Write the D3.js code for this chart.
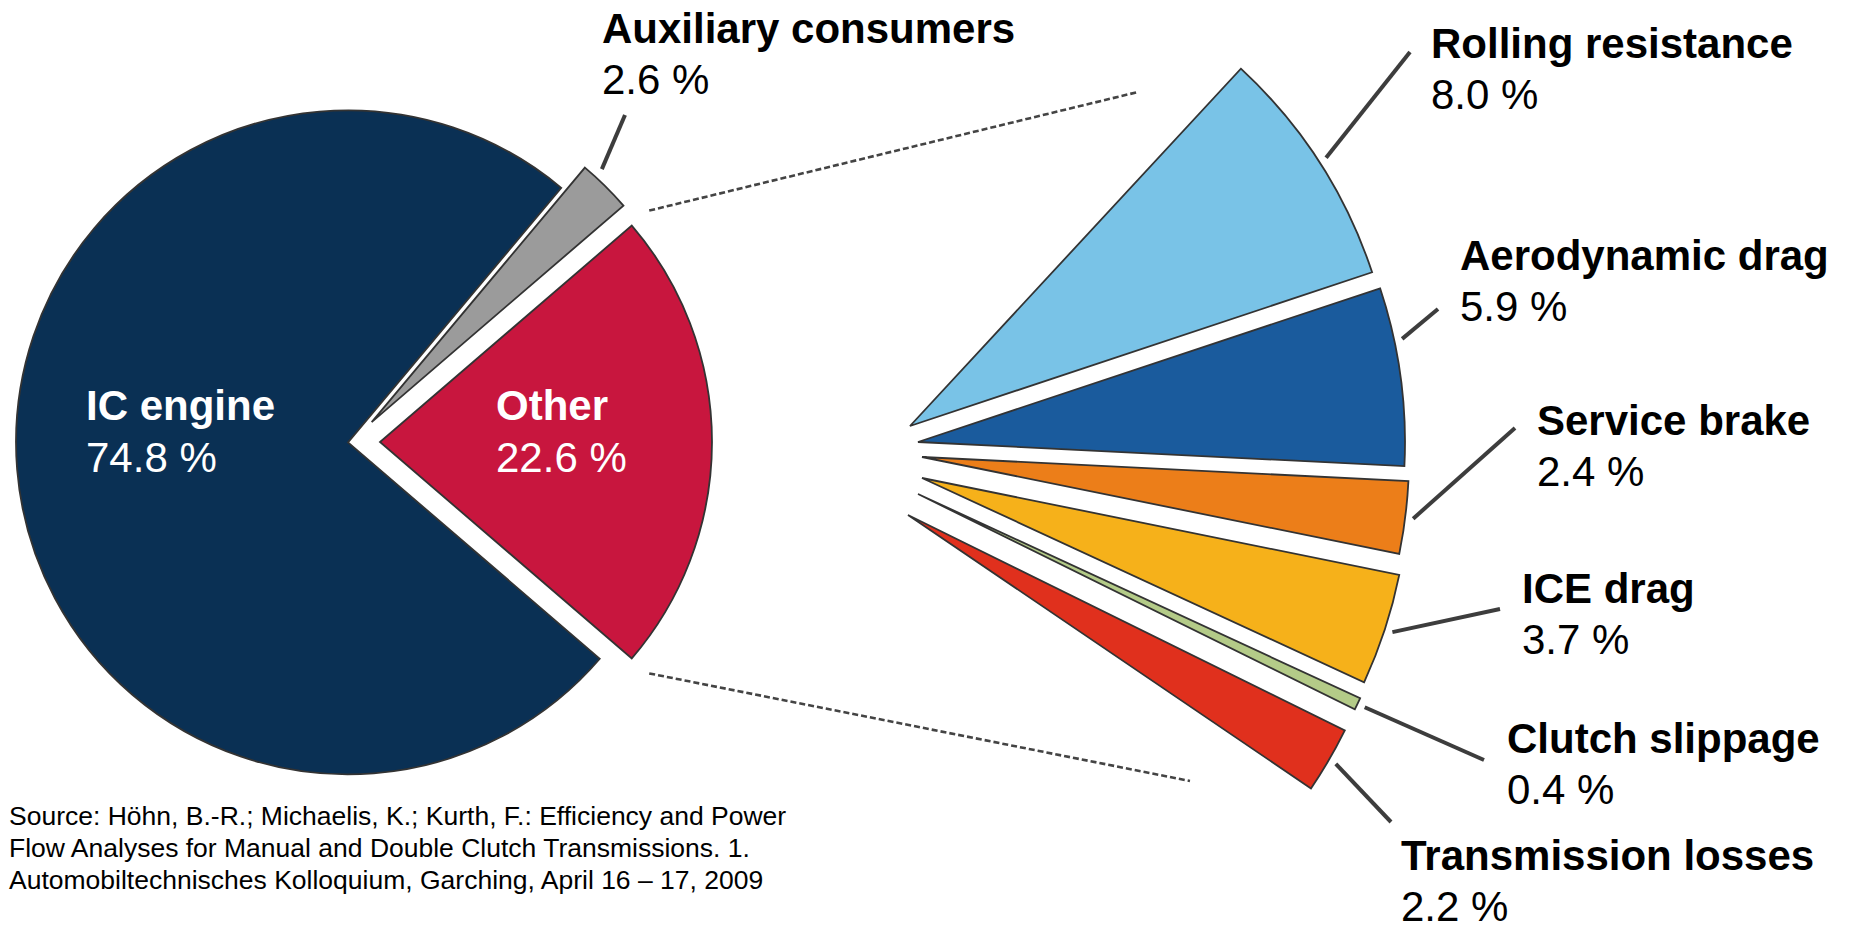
<!DOCTYPE html>
<html>
<head>
<meta charset="utf-8">
<script src="https://cdn.jsdelivr.net/npm/d3@7"></script>
<style>
  html, body { margin: 0; padding: 0; background: #ffffff; }
  svg { display: block; font-family: "Liberation Sans", Arial, Helvetica, sans-serif; }
</style>
</head>
<body>
<svg id="chart" width="1852" height="931"></svg>
<script>
// ---- Data -------------------------------------------------------------
// Main energy split (percent)
const mainCategories = ["Auxiliary consumers", "Other", "IC engine"];
const mainValues = [2.6, 22.6, 74.8];

// Breakdown of the "Other" share (percent of total)
const otherCategories = ["Rolling resistance", "Aerodynamic drag", "Service brake",
                         "ICE drag", "Clutch slippage", "Transmission losses"];
const otherValues = [8.0, 5.9, 2.4, 3.7, 0.4, 2.2];

const sourceLines = [
  "Source: Höhn, B.-R.; Michaelis, K.; Kurth, F.: Efficiency and Power",
  "Flow Analyses for Manual and Double Clutch Transmissions. 1.",
  "Automobiltechnisches Kolloquium, Garching, April 16 \u2013 17, 2009"
];

// ---- Styles -----------------------------------------------------------
const mainColors = ["#9b9b9b", "#c8163e", "#0a3054"];
const otherColors = ["#79c3e7", "#1a5b9d", "#ec7e19", "#f6b11a", "#b4cb88", "#e0301d"];
const outline = "#333333";
const leaderColor = "#3d3d3d";

// ---- Layout -----------------------------------------------------------
const deg = Math.PI / 180;
const main = { cx: 352, cy: 442, r: 332, start: 39.96 * deg,
               explode: [28, 28, 4] };
// leaders / labels for the main pie (only the auxiliary slice has an outside label)
const mainLeader = { frac: 0.25, r: 342, end: [625, 115] };
const mainOutsideLabel = { x: 602, y: 42.5 };
const mainInsideLabels = [null, { x: 496, y: 420 }, { x: 86, y: 420 }];

const fan = { cx: 916, cy: 471, r: 487, start: 42.8 * deg,
              shift: [[-6, -45], [2, -29], [6, -14], [6, 7], [2, 23], [-8, 44]] };
const fanLeaderFrac = [0.5, 0.3, 0.5, 0.5, 0.5, 0.5];
const fanLeaderR = 495;
const fanLeaderEnd = [[1410, 52], [1438, 309], [1515, 428], [1500, 609], [1484, 760], [1391, 822]];
const fanLabelPos = [[1431, 58], [1460, 270], [1537, 435], [1522, 603], [1507, 753], [1401, 870]];

const labelSize = 42;
const lineGap = 51;

// Connector lines from the "Other" slice to the breakdown fan
const connectorR = 355;
const connectorEnds = [[1138, 92], [1190, 781]];

const svg = d3.select("#chart");
const fmt = v => d3.format(".1f")(v) + " %";
const polar = (a, r) => [r * Math.sin(a), -r * Math.cos(a)];

// ---- Main pie ---------------------------------------------------------
const mainPie = d3.pie().sort(null).value(d => d)
  .startAngle(main.start).endAngle(main.start + 2 * Math.PI);
const mainArcs = mainPie(mainValues);
const mainArc = d3.arc().innerRadius(0).outerRadius(main.r);

const mainCenters = mainArcs.map((a, i) => {
  const mid = (a.startAngle + a.endAngle) / 2;
  const [dx, dy] = polar(mid, main.explode[i]);
  return [main.cx + dx, main.cy + dy];
});

svg.append("g").selectAll("path")
  .data(mainArcs)
  .join("path")
  .attr("transform", (d, i) => `translate(${mainCenters[i][0]},${mainCenters[i][1]})`)
  .attr("d", mainArc)
  .attr("fill", (d, i) => mainColors[i])
  .attr("stroke", outline)
  .attr("stroke-width", 1.8)
  .attr("stroke-linejoin", "miter");

// Dashed connectors from the edges of "Other"
const otherArc = mainArcs[1];
const otherC = mainCenters[1];
[otherArc.startAngle, otherArc.endAngle].forEach((a, i) => {
  const [dx, dy] = polar(a, connectorR);
  svg.append("line")
    .attr("x1", otherC[0] + dx).attr("y1", otherC[1] + dy)
    .attr("x2", connectorEnds[i][0]).attr("y2", connectorEnds[i][1])
    .attr("stroke", "#444444")
    .attr("stroke-width", 2.6)
    .attr("stroke-dasharray", "6,3");
});

// Leader for auxiliary consumers
{
  const a = mainArcs[0];
  const ang = a.startAngle + (a.endAngle - a.startAngle) * mainLeader.frac;
  const [dx, dy] = polar(ang, mainLeader.r);
  svg.append("line")
    .attr("x1", mainCenters[0][0] + dx).attr("y1", mainCenters[0][1] + dy)
    .attr("x2", mainLeader.end[0]).attr("y2", mainLeader.end[1])
    .attr("stroke", leaderColor).attr("stroke-width", 4);
  const t = svg.append("text")
    .attr("x", mainOutsideLabel.x).attr("y", mainOutsideLabel.y)
    .attr("font-size", labelSize).attr("fill", "#000");
  t.append("tspan").attr("font-weight", "bold").text(mainCategories[0]);
  t.append("tspan").attr("x", mainOutsideLabel.x).attr("dy", lineGap).text(fmt(mainValues[0]));
}

// Labels inside the pie
mainInsideLabels.forEach((p, i) => {
  if (!p) return;
  const t = svg.append("text")
    .attr("x", p.x).attr("y", p.y)
    .attr("font-size", labelSize).attr("fill", "#ffffff");
  t.append("tspan").attr("font-weight", "bold").text(mainCategories[i]);
  t.append("tspan").attr("x", p.x).attr("dy", lineGap + 1).text(fmt(mainValues[i]));
});

// ---- Breakdown fan ----------------------------------------------------
const otherTotal = d3.sum(otherValues);
const fanSpan = otherTotal / d3.sum(mainValues) * 2 * Math.PI;
const fanPie = d3.pie().sort(null).value(d => d)
  .startAngle(fan.start).endAngle(fan.start + fanSpan);
const fanArcs = fanPie(otherValues);
const fanArc = d3.arc().innerRadius(0).outerRadius(fan.r);
const fanCenters = fanArcs.map((a, i) => [fan.cx + fan.shift[i][0], fan.cy + fan.shift[i][1]]);

svg.append("g").selectAll("path")
  .data(fanArcs)
  .join("path")
  .attr("transform", (d, i) => `translate(${fanCenters[i][0]},${fanCenters[i][1]})`)
  .attr("d", fanArc)
  .attr("fill", (d, i) => otherColors[i])
  .attr("stroke", outline)
  .attr("stroke-width", 1.8)
  .attr("stroke-linejoin", "miter");

// Leaders and labels for the fan
fanArcs.forEach((a, i) => {
  const ang = a.startAngle + (a.endAngle - a.startAngle) * fanLeaderFrac[i];
  const [dx, dy] = polar(ang, fanLeaderR);
  svg.append("line")
    .attr("x1", fanCenters[i][0] + dx).attr("y1", fanCenters[i][1] + dy)
    .attr("x2", fanLeaderEnd[i][0]).attr("y2", fanLeaderEnd[i][1])
    .attr("stroke", leaderColor).attr("stroke-width", 4);

  const [lx, ly] = fanLabelPos[i];
  const t = svg.append("text")
    .attr("x", lx).attr("y", ly)
    .attr("font-size", labelSize).attr("fill", "#000");
  t.append("tspan").attr("font-weight", "bold").text(otherCategories[i]);
  t.append("tspan").attr("x", lx).attr("dy", lineGap).text(fmt(otherValues[i]));
});

// ---- Source note ------------------------------------------------------
svg.append("g").selectAll("text")
  .data(sourceLines)
  .join("text")
  .attr("x", 9)
  .attr("y", (d, i) => 825 + i * 32)
  .attr("font-size", 26.5)
  .attr("fill", "#000")
  .text(d => d);
</script>
</body>
</html>
